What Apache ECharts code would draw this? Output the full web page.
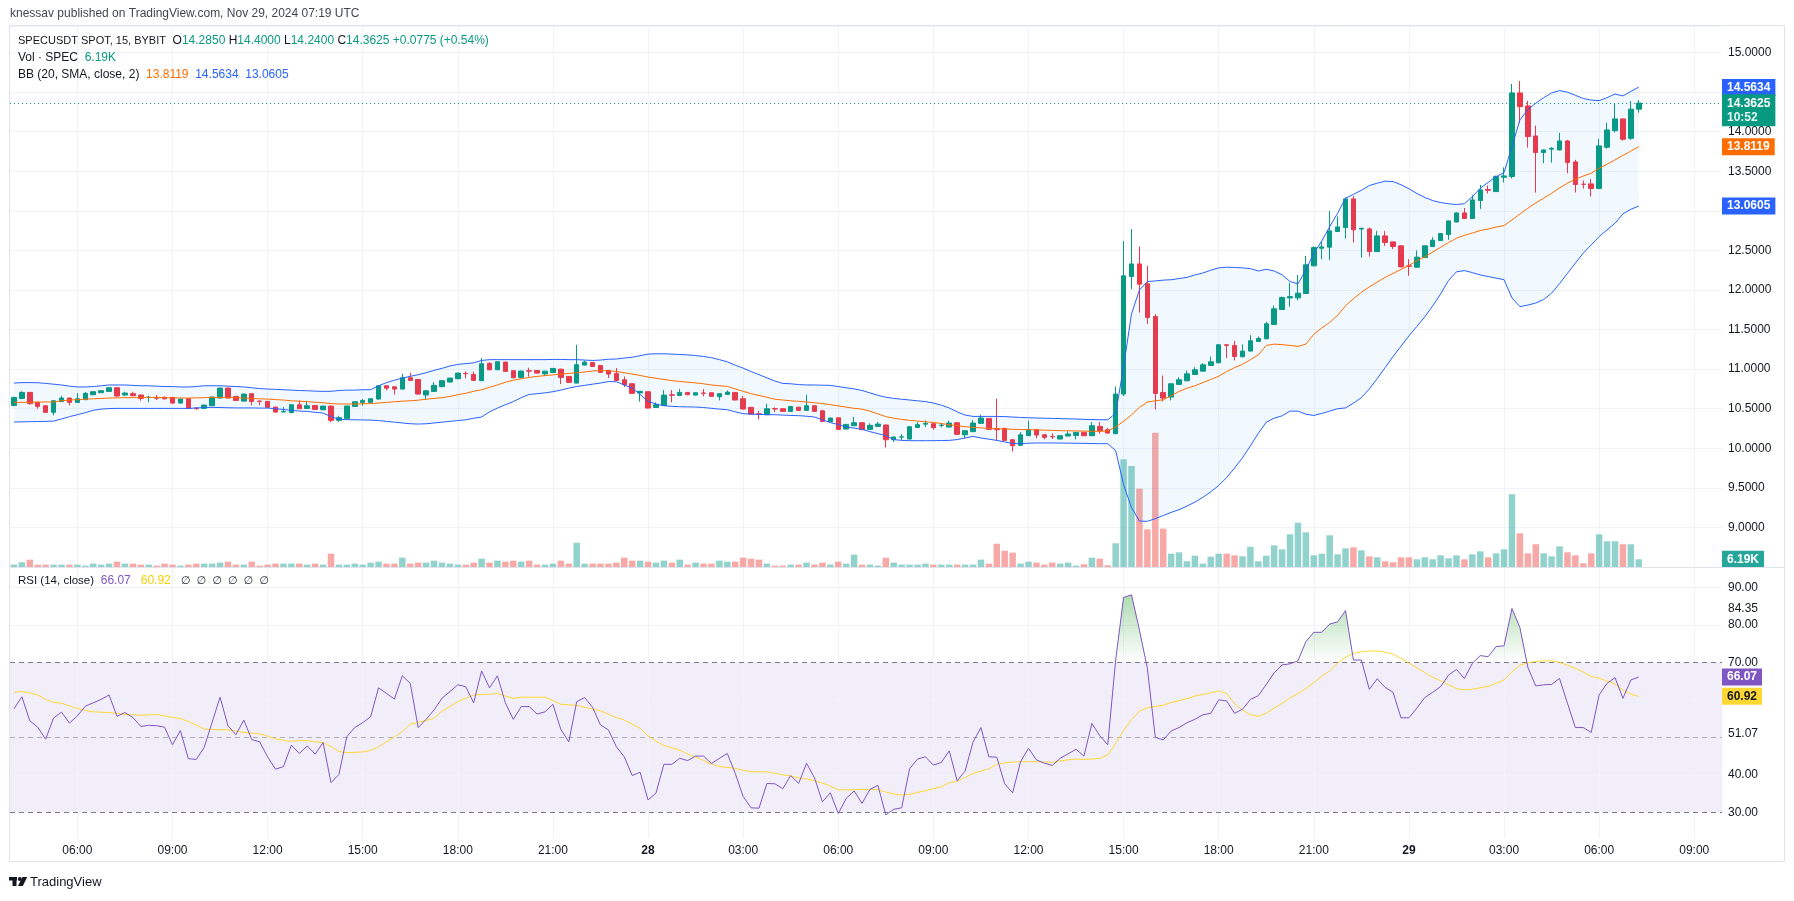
<!DOCTYPE html>
<html><head><meta charset="utf-8">
<script src="https://cdn.jsdelivr.net/npm/echarts@6/dist/echarts.min.js"></script>
<style>html,body{margin:0;padding:0;background:#fff}#c{width:1794px;height:901px}</style>
</head><body><div id="c"></div>
<script>
// ---------------- DATA ----------------
const slotCount = 216;                    // 15-minute slots from Nov 27 04:00 UTC (axis runs past last candle)
const startUTC = [2024, 10, 27, 4, 0];
// [open, close, low, high]
const ohlc = [
[10.542,10.643,10.53,10.65],[10.63,10.706,10.62,10.72],[10.706,10.563,10.555,10.71],[10.58,10.53,10.50,10.585],[10.538,10.454,10.445,10.54],
[10.454,10.601,10.416,10.605],[10.59,10.635,10.585,10.664],[10.635,10.58,10.54,10.64],[10.58,10.626,10.575,10.698],[10.614,10.694,10.61,10.71],
[10.677,10.715,10.67,10.72],[10.702,10.728,10.70,10.732],[10.719,10.765,10.715,10.768],[10.765,10.66,10.655,10.768],[10.673,10.698,10.66,10.715],
[10.69,10.664,10.66,10.715],[10.673,10.63,10.60,10.676],[10.643,10.645,10.584,10.664],[10.643,10.632,10.61,10.672],[10.645,10.625,10.62,10.65],
[10.643,10.571,10.565,10.646],[10.571,10.622,10.568,10.625],[10.626,10.504,10.50,10.628],[10.508,10.50,10.487,10.52],[10.504,10.546,10.50,10.55],
[10.538,10.648,10.535,10.652],[10.635,10.761,10.63,10.765],[10.761,10.635,10.63,10.765],[10.656,10.605,10.60,10.66],[10.596,10.685,10.59,10.69],
[10.69,10.592,10.542,10.693],[10.597,10.593,10.542,10.60],[10.593,10.517,10.51,10.596],[10.521,10.458,10.452,10.525],[10.458,10.466,10.455,10.521],
[10.45,10.55,10.445,10.555],[10.55,10.50,10.495,10.605],[10.504,10.538,10.50,10.60],[10.542,10.491,10.486,10.545],[10.487,10.533,10.482,10.538],
[10.533,10.353,10.332,10.54],[10.353,10.387,10.335,10.41],[10.378,10.534,10.375,10.538],[10.529,10.588,10.525,10.592],[10.58,10.605,10.538,10.622],
[10.58,10.626,10.575,10.63],[10.622,10.79,10.618,10.795],[10.79,10.76,10.731,10.795],[10.777,10.748,10.678,10.78],[10.748,10.891,10.745,10.942],
[10.891,10.858,10.855,10.954],[10.87,10.685,10.68,10.873],[10.673,10.727,10.618,10.73],[10.719,10.795,10.715,10.833],[10.778,10.854,10.775,10.858],
[10.837,10.887,10.833,10.89],[10.879,10.95,10.875,10.953],[10.945,10.942,10.883,10.97],[10.933,10.858,10.853,10.97],[10.854,11.068,10.85,11.14],
[11.072,10.992,10.988,11.09],[10.992,11.093,10.988,11.097],[11.089,10.971,10.967,11.093],[10.98,10.891,10.887,10.984],[10.896,10.976,10.892,10.98],
[10.98,10.975,10.904,11.018],[10.984,10.95,10.945,10.988],[10.94,10.975,10.92,10.98],[10.958,11.009,10.955,11.013],[11.0,10.896,10.81,11.005],
[10.908,10.833,10.828,10.912],[10.824,11.056,10.82,11.308],[11.051,11.089,11.045,11.11],[11.085,11.034,11.03,11.09],[11.047,10.959,10.955,11.05],
[10.984,10.938,10.888,10.988],[10.946,10.858,10.854,11.014],[10.866,10.803,10.774,10.908],[10.816,10.694,10.69,10.82],[10.70,10.72,10.59,10.725],
[10.715,10.508,10.504,10.72],[10.516,10.55,10.51,10.58],[10.542,10.672,10.538,10.736],[10.676,10.67,10.58,10.736],[10.668,10.706,10.664,10.748],
[10.706,10.677,10.672,10.71],[10.672,10.702,10.668,10.706],[10.698,10.695,10.656,10.748],[10.702,10.656,10.652,10.706],[10.652,10.69,10.605,10.694],
[10.681,10.71,10.677,10.731],[10.706,10.61,10.605,10.71],[10.626,10.496,10.49,10.66],[10.517,10.432,10.428,10.52],[10.435,10.43,10.365,10.475],
[10.424,10.50,10.42,10.563],[10.50,10.497,10.458,10.517],[10.50,10.466,10.462,10.504],[10.466,10.529,10.462,10.533],[10.52,10.479,10.475,10.524],
[10.479,10.538,10.475,10.677],[10.538,10.466,10.462,10.542],[10.474,10.34,10.336,10.478],[10.336,10.382,10.332,10.386],[10.386,10.239,10.235,10.39],
[10.243,10.302,10.239,10.306],[10.285,10.323,10.281,10.395],[10.323,10.235,10.231,10.327],[10.239,10.29,10.235,10.315],[10.277,10.306,10.273,10.332],
[10.294,10.108,10.011,10.30],[10.108,10.142,10.08,10.146],[10.142,10.145,10.104,10.18],[10.117,10.273,10.113,10.277],[10.264,10.298,10.26,10.332],
[10.305,10.315,10.268,10.353],[10.311,10.26,10.235,10.315],[10.29,10.292,10.264,10.319],[10.268,10.319,10.264,10.349],[10.323,10.176,10.172,10.327],
[10.17,10.222,10.13,10.226],[10.21,10.319,10.206,10.357],[10.315,10.382,10.311,10.424],[10.378,10.239,10.235,10.382],[10.247,10.235,10.096,10.626],
[10.252,10.10,10.096,10.256],[10.108,10.033,9.96,10.112],[10.037,10.171,10.033,10.205],[10.16,10.235,10.156,10.348],[10.235,10.167,10.125,10.239],
[10.171,10.138,10.113,10.175],[10.15,10.145,10.117,10.188],[10.117,10.159,10.113,10.163],[10.155,10.18,10.15,10.214],[10.163,10.201,10.113,10.205],
[10.201,10.159,10.155,10.205],[10.159,10.285,10.155,10.332],[10.277,10.226,10.184,10.332],[10.234,10.192,10.188,10.255],[10.184,10.685,10.18,10.78],
[10.685,12.179,10.66,12.62],[12.17,12.33,12.01,12.77],[12.33,12.074,11.716,12.55],[12.078,11.653,11.57,12.305],[11.665,10.693,10.49,11.695],
[10.706,10.634,10.592,10.92],[10.647,10.815,10.605,10.82],[10.807,10.866,10.803,10.90],[10.853,10.941,10.849,10.983],[10.933,10.992,10.929,11.026],
[10.975,11.055,10.971,11.076],[11.047,11.093,11.043,11.16],[11.08,11.308,11.076,11.312],[11.308,11.30,11.14,11.312],[11.30,11.16,11.11,11.358],
[11.156,11.228,11.152,11.312],[11.228,11.358,11.224,11.43],[11.35,11.388,11.346,11.413],[11.383,11.573,11.379,11.598],[11.564,11.762,11.56,11.804],
[11.754,11.905,11.75,11.918],[11.90,11.917,11.79,12.09],[11.901,11.96,11.87,12.19],[11.956,12.318,11.952,12.43],[12.305,12.536,12.301,12.55],
[12.528,12.545,12.39,12.612],[12.541,12.747,12.38,12.999],[12.739,12.797,12.735,12.928],[12.789,13.151,12.65,13.17],[13.151,12.76,12.60,13.189],
[12.77,12.78,12.41,12.785],[12.772,12.486,12.423,12.79],[12.486,12.684,12.482,12.747],[12.684,12.60,12.558,12.747],[12.608,12.549,12.516,12.612],
[12.558,12.292,12.288,12.562],[12.305,12.30,12.18,12.39],[12.288,12.415,12.284,12.50],[12.41,12.558,12.406,12.562],[12.549,12.629,12.545,12.667],
[12.625,12.713,12.621,12.717],[12.70,12.873,12.635,12.877],[12.86,12.974,12.856,12.978],[12.974,12.903,12.899,13.037],[12.903,13.138,12.899,13.197],
[13.131,13.265,13.025,13.328],[13.27,13.26,13.22,13.32],[13.244,13.433,13.24,13.446],[13.425,13.442,13.358,13.55],[13.434,14.49,13.41,14.603],
[14.49,14.317,14.107,14.641],[14.326,13.939,13.80,14.39],[13.947,13.737,13.231,14.077],[13.737,13.77,13.602,13.775],[13.78,13.79,13.61,13.806],
[13.77,13.884,13.766,13.985],[13.884,13.61,13.476,13.896],[13.619,13.333,13.232,13.644],[13.337,13.335,13.282,13.383],[13.341,13.282,13.181,13.404],
[13.282,13.821,13.278,13.909],[13.804,14.023,13.787,14.115],[14.014,14.162,13.989,14.359],[14.162,13.905,13.888,14.166],[13.917,14.285,13.897,14.389],
[14.285,14.3625,14.24,14.40]
];
// volume in thousands of SPEC
const volumeK = [
1.9,3.8,5.9,1.9,1.9,1.9,1.9,1.9,1.9,1.1, 2.7,1.9,2.7,4.3,2.7,2.7,1.9,1.9,1.1,2.7,
1.9,1.1,1.9,2.7,2.7,2.7,3.5,4.3,1.9,1.9, 4.3,1.1,1.9,2.7,2.7,2.7,2.7,1.9,2.7,1.9,
10.7,1.9,1.9,2.7,1.9,3.5,4.3,2.7,2.7,7.5, 2.7,3.5,3.5,5.1,3.5,2.7,1.9,1.9,3.5,6.7,
3.5,5.1,4.3,5.1,4.3,5.1,1.9,1.9,2.7,5.1, 2.7,19.5,2.7,2.7,2.7,2.7,3.5,7.5,5.1,5.1,
4.3,3.5,5.1,3.5,5.9,1.9,3.5,2.7,2.7,5.1, 4.3,4.3,7.5,6.7,5.9,2.7,1.1,1.1,1.9,1.9,
3.5,1.9,3.5,1.9,4.3,2.7,9.9,1.9,1.9,1.1, 7.5,3.5,1.9,1.9,1.9,2.7,1.9,1.9,1.9,1.9,
1.9,1.9,5.9,2.7,18.7,13.1,11.5,2.7,4.3,3.5, 1.9,3.5,2.7,3.5,1.1,2.2,7.5,6.7,1.4,19.1,
86.6,81.2,63.0,30.3,108.0,30.8,10.7,11.8,4.6,9.1, 2.7,8.3,10.7,10.7,9.4,8.6,16.3,4.6,9.1,17.4,
14.2,26.3,35.6,27.9,9.4,10.7,25.5,10.2,15.0,15.8, 13.4,8.6,7.8,4.6,3.8,7.8,7.8,6.2,7.8,6.2,
9.4,7.0,9.4,6.2,10.2,12.6,7.8,11.0,14.2,58.5, 27.1,11.0,18.3,11.0,8.6,16.6,11.8,9.4,3.0,11.0,
26.3,20.7,20.7,18.3,18.3,6.19
];
const bbUpper = [
10.824,10.83,10.83,10.828,10.82,10.81,10.80,10.785,10.775,10.775, 10.78,10.79,10.80,10.80,10.80,10.795,10.79,10.79,10.785,10.78,
10.78,10.775,10.774,10.78,10.79,10.79,10.79,10.785,10.78,10.775, 10.765,10.755,10.748,10.745,10.74,10.735,10.73,10.727,10.722,10.719,
10.72,10.73,10.735,10.735,10.74,10.74,10.79,10.83,10.86,10.887, 10.91,10.93,10.955,10.985,11.01,11.04,11.06,11.07,11.08,11.11,
11.12,11.12,11.12,11.12,11.12,11.12,11.12,11.12,11.123,11.123, 11.12,11.12,11.115,11.11,11.115,11.125,11.128,11.14,11.15,11.17,
11.19,11.194,11.194,11.19,11.185,11.18,11.172,11.16,11.145,11.12, 11.093,11.05,11.013,10.97,10.93,10.89,10.85,10.82,10.815,10.805,
10.80,10.80,10.797,10.795,10.78,10.765,10.75,10.73,10.70,10.67, 10.645,10.63,10.62,10.61,10.60,10.59,10.572,10.545,10.51,10.46,
10.42,10.403,10.403,10.403,10.403,10.40,10.395,10.39,10.386,10.383, 10.38,10.378,10.375,10.372,10.37,10.366,10.363,10.361,10.361,10.44,
11.03,11.70,12.0,12.107,12.115,12.125,12.13,12.145,12.16,12.19, 12.215,12.25,12.28,12.288,12.285,12.28,12.27,12.24,12.262,12.24,
12.192,12.107,12.078,12.255,12.465,12.62,12.80,12.97,13.16,13.21, 13.26,13.32,13.35,13.375,13.37,13.33,13.28,13.22,13.17,13.13,
13.105,13.09,13.08,13.09,13.18,13.286,13.36,13.433,13.484,13.812, 14.149,14.28,14.36,14.43,14.49,14.52,14.50,14.46,14.42,14.40,
14.393,14.43,14.477,14.452,14.51,14.5634
];
const bbBasis = [
10.58,10.58,10.582,10.584,10.585,10.585,10.60,10.61,10.614,10.62, 10.625,10.63,10.635,10.637,10.64,10.64,10.642,10.643,10.642,10.64,
10.638,10.636,10.635,10.637,10.64,10.642,10.643,10.643,10.64,10.635, 10.63,10.625,10.622,10.615,10.61,10.60,10.595,10.59,10.582,10.575,
10.565,10.56,10.559,10.56,10.562,10.565,10.572,10.58,10.588,10.595, 10.60,10.608,10.62,10.63,10.64,10.655,10.677,10.695,10.72,10.74,
10.77,10.80,10.835,10.86,10.88,10.895,10.908,10.918,10.928,10.937, 10.946,10.955,10.965,10.975,10.984,10.978,10.971,10.955,10.938,10.92,
10.90,10.885,10.87,10.855,10.845,10.835,10.826,10.815,10.80,10.79, 10.782,10.75,10.72,10.69,10.668,10.645,10.62,10.61,10.60,10.593,
10.585,10.575,10.565,10.552,10.535,10.52,10.505,10.495,10.47,10.435, 10.40,10.38,10.365,10.352,10.345,10.335,10.327,10.313,10.298,10.285,
10.273,10.265,10.258,10.252,10.248,10.244,10.24,10.237,10.235,10.232, 10.229,10.226,10.223,10.221,10.219,10.217,10.215,10.214,10.22,10.27,
10.34,10.424,10.516,10.584,10.60,10.613,10.665,10.718,10.76,10.79, 10.83,10.87,10.91,10.97,11.02,11.06,11.12,11.18,11.30,11.316,
11.31,11.30,11.287,11.316,11.44,11.52,11.59,11.68,11.80,11.89, 11.97,12.04,12.10,12.16,12.21,12.26,12.31,12.37,12.42,12.48,
12.54,12.60,12.655,12.69,12.72,12.752,12.77,12.795,12.815,12.886, 12.96,13.034,13.10,13.16,13.223,13.29,13.35,13.40,13.44,13.476,
13.539,13.59,13.644,13.70,13.755,13.8119
];
const bbLower = [
10.332,10.334,10.336,10.338,10.34,10.344,10.37,10.40,10.424,10.45, 10.48,10.495,10.502,10.504,10.504,10.504,10.504,10.504,10.504,10.504,
10.504,10.504,10.504,10.51,10.515,10.517,10.515,10.512,10.51,10.51, 10.51,10.508,10.508,10.50,10.49,10.48,10.47,10.466,10.455,10.445,
10.40,10.365,10.362,10.36,10.358,10.356,10.35,10.34,10.33,10.32, 10.31,10.306,10.31,10.32,10.33,10.34,10.35,10.36,10.38,10.395,
10.46,10.508,10.55,10.59,10.64,10.68,10.69,10.70,10.715,10.735, 10.76,10.78,10.795,10.81,10.824,10.843,10.841,10.80,10.761,10.68,
10.593,10.56,10.538,10.53,10.525,10.523,10.521,10.515,10.505,10.495, 10.487,10.46,10.437,10.432,10.428,10.425,10.424,10.42,10.415,10.412,
10.405,10.395,10.36,10.325,10.30,10.268,10.255,10.24,10.21,10.185, 10.16,10.11,10.10,10.096,10.096,10.096,10.096,10.098,10.10,10.11,
10.13,10.15,10.13,10.115,10.10,10.08,10.06,10.058,10.064,10.067, 10.067,10.067,10.066,10.065,10.063,10.062,10.06,10.058,10.058,9.97,
9.54,9.25,9.08,9.077,9.11,9.15,9.19,9.224,9.27,9.32, 9.38,9.45,9.53,9.63,9.75,9.88,10.03,10.19,10.33,10.38,
10.41,10.47,10.47,10.43,10.415,10.44,10.47,10.50,10.51,10.57, 10.64,10.75,10.88,11.02,11.16,11.29,11.42,11.54,11.66,11.80,
11.95,12.12,12.23,12.245,12.22,12.19,12.17,12.15,12.13,11.90, 11.79,11.81,11.835,11.88,11.96,12.08,12.21,12.34,12.466,12.57,
12.676,12.76,12.844,12.962,13.02,13.0605
];
const rsi = [
57.6,60.8,54.4,52.7,49.5,55.2,56.7,53.8,55.7,58.3, 59.2,60.1,61.3,55.6,56.6,55.3,52.9,53.2,53.1,52.7,
48.0,51.8,44.3,44.1,47.3,54.0,60.7,53.1,50.7,54.6, 49.4,48.8,44.8,41.5,42.2,47.9,45.7,47.7,45.5,48.6,
37.9,40.1,50.2,52.6,53.9,55.5,63.2,61.7,60.2,66.4, 64.4,52.6,54.8,57.3,60.4,62.2,64.0,63.5,59.2,67.7,
63.2,66.4,59.2,54.8,58.2,58.2,56.2,56.8,58.8,52.1, 48.8,59.5,60.6,58.0,53.3,52.0,47.5,44.8,39.8,40.7,
33.3,35.1,42.8,42.8,44.4,43.8,45.0,45.0,43.0,44.4, 45.7,40.4,34.2,31.2,31.1,37.7,37.6,36.3,39.8,37.7,
43.1,39.2,32.8,35.2,29.7,33.7,35.7,32.4,36.1,37.2, 29.3,30.8,31.2,41.6,44.2,44.8,42.6,43.3,46.4,38.4,
41.0,48.7,52.6,44.8,44.7,37.6,35.2,43.5,47.1,44.0, 43.1,42.5,44.4,45.6,46.8,45.0,53.7,50.4,48.0,70.6,
87.3,88.0,78.6,68.4,50.0,49.3,51.7,52.6,53.9,54.8, 56.0,56.4,60.0,59.7,56.4,57.5,60.1,61.1,64.1,67.2,
69.3,69.6,70.4,75.5,78.0,78.0,80.2,80.8,83.8,70.6, 70.6,62.8,65.6,63.3,62.0,55.2,55.2,57.8,60.6,62.0,
63.5,66.6,68.1,65.7,69.7,71.8,71.5,74.2,74.4,84.35, 79.3,68.7,63.7,64.0,64.1,65.7,59.1,52.6,52.6,51.3,
61.3,64.4,65.9,60.4,65.3,66.07
];
const rsiMa = [
62.0,62.2,61.8,61.3,60.1,59.3,59.1,58.4,57.7,57.2, 56.8,56.7,56.6,56.4,56.1,56.0,55.9,56.0,56.1,55.7,
55.3,55.0,54.2,53.3,52.2,52.1,52.0,52.0,51.7,51.3, 51.1,50.9,50.3,49.6,49.2,48.9,49.2,49.1,48.8,48.6,
47.5,46.2,45.9,46.0,46.1,46.5,47.5,48.8,50.1,51.5, 53.5,54.0,54.5,55.1,57.0,58.2,59.5,60.4,61.3,61.4,
61.5,61.7,61.0,60.4,60.7,60.7,60.7,60.7,59.8,58.8, 58.7,58.5,58.0,57.5,57.1,56.1,55.3,54.6,53.5,52.4,
50.4,49.0,47.8,47.2,46.6,45.5,44.8,43.8,42.9,42.2, 42.0,41.7,41.2,40.8,40.8,40.8,40.4,40.0,39.7,39.2,
38.9,38.4,37.8,37.0,36.0,36.0,36.0,36.1,36.1,36.0, 35.4,34.9,34.6,34.8,35.3,35.8,36.3,36.8,37.9,38.3,
39.3,40.4,41.0,41.6,42.8,43.2,43.4,43.5,43.5,43.5, 43.4,43.3,43.7,44.0,44.2,44.1,44.2,44.4,45.3,48.4,
51.8,54.7,57.0,57.9,58.2,58.6,59.3,59.8,60.3,61.0, 61.4,61.9,62.4,61.7,59.0,57.3,56.0,55.6,56.4,57.8,
59.1,60.5,61.7,63.0,64.6,66.3,67.7,69.8,71.3,72.4, 72.8,73.0,73.0,72.7,72.2,71.0,69.8,68.5,67.3,66.0,
65.1,64.0,63.0,62.7,62.8,63.2,63.6,64.4,65.3,67.5, 69.2,69.9,70.2,70.4,70.4,70.0,69.2,68.4,67.4,66.2,
65.8,65.0,64.2,62.6,61.5,60.92
];
const rsiAxisLabels = [30, 40, 51.07, 70, 80, 84.35, 90];
const rsiGridValues = [40, 60, 80, 90];
const rsiBands = {upper: 70, middle: 50, lower: 30};
const hiddenPriceLabels = [8.5, 13.0, 14.5];
const countdown = '10:52';
const changeText = '+0.0775 (+0.54%)';

// ---------------- STYLE ----------------
const FONT = '"Liberation Sans", Arial, "DejaVu Sans", sans-serif';
const UP = '#089981', DOWN = '#f23645';
const VOL_UP = 'rgba(38,166,154,0.5)', VOL_DOWN = 'rgba(239,83,80,0.5)';
const GRID_C = '#f0f3fa', TXT = '#131722';
const BLUE = '#2962ff', ORANGE = '#ff6d00', PURPLE = '#7e57c2', YELLOW = '#fdd835';
const CLEAR = 'rgba(0,0,0,0)';

const pad = n => String(n).padStart(2, '0');
const cats = [];
const t0 = Date.UTC(...startUTC);
for (let k = 0; k < slotCount; k++) {
  const d = new Date(t0 + k * 900000);
  cats.push(d.getUTCDate() + ' ' + pad(d.getUTCHours()) + ':' + pad(d.getUTCMinutes()));
}
const isMajor = c => { const hm = c.split(' ')[1]; const [h, m] = hm.split(':').map(Number); return m === 0 && h % 3 === 0; };
const fmtTime = c => { const [dd, hm] = c.split(' '); return hm === '00:00' ? '{b|' + dd + '}' : hm; };
const vGrid = cats.filter(isMajor).map(c => ({xAxis: c}));

const last = ohlc.length - 1;
const lastBar = ohlc[last];
const f4 = v => v.toFixed(4);

const tag = (val, text, bg, fg) => ({
  yAxis: val,
  lineStyle: {color: CLEAR, width: 1, opacity: 1},
  label: {show: true, position: 'end', formatter: text, backgroundColor: bg, color: fg,
    padding: [3, 5, 2, 5], fontSize: 12, fontWeight: 'bold', fontFamily: FONT, distance: 0}
});

const RICH = {
  n: {color: TXT, fontSize: 11, fontFamily: FONT},
  r: {color: TXT, fontSize: 11.5, fontFamily: FONT},
  d: {color: TXT, fontSize: 12, fontFamily: FONT},
  g: {color: UP, fontSize: 12, fontFamily: FONT},
  o: {color: ORANGE, fontSize: 12, fontFamily: FONT},
  bl: {color: BLUE, fontSize: 12, fontFamily: FONT},
  p: {color: PURPLE, fontSize: 12, fontFamily: FONT},
  y: {color: '#f5d000', fontSize: 12, fontFamily: FONT},
  z: {color: TXT, fontSize: 11, fontFamily: FONT}
};
const tStyle = {fontSize: 12, color: TXT, fontFamily: FONT, fontWeight: 'normal', rich: RICH};

const chart = echarts.init(document.getElementById('c'), null, {width: 1794, height: 901, renderer: 'canvas'});

const option = {
  animation: false,
  backgroundColor: '#ffffff',
  textStyle: {fontFamily: FONT},
  title: [
    {text: 'knessav published on TradingView.com, Nov 29, 2024 07:19 UTC', left: 10, top: 8, padding: 0,
     textStyle: {fontSize: 12, fontWeight: 'normal', color: '#434651', fontFamily: FONT}},
    {text: '{n|SPECUSDT SPOT, 15, BYBIT}  {d|O}{g|' + f4(lastBar[0]) + '} {d|H}{g|' + f4(lastBar[3]) + '} {d|L}{g|' + f4(lastBar[2]) + '} {d|C}{g|' + f4(lastBar[1]) + '} {g|' + changeText + '}',
     left: 18, top: 35, padding: 0, textStyle: tStyle},
    {text: '{d|Vol · SPEC}  {g|' + volumeK[last].toFixed(2) + 'K}', left: 18, top: 52, padding: 0, textStyle: tStyle},
    {text: '{d|BB (20, SMA, close, 2)}  {o|' + f4(bbBasis[last]) + '}  {bl|' + f4(bbUpper[last]) + '}  {bl|' + f4(bbLower[last]) + '}',
     left: 18, top: 69, padding: 0, textStyle: tStyle},
    {text: '{r|RSI (14, close)}  {p|' + rsi[last].toFixed(2) + '}   {y|' + rsiMa[last].toFixed(2) + '}   {z|∅  ∅  ∅  ∅  ∅  ∅}',
     left: 18, top: 575, padding: 0, textStyle: tStyle}
  ],
  graphic: [
    {type: 'rect', silent: true, z: 100, shape: {x: 9.5, y: 25.5, width: 1775, height: 836}, style: {fill: 'none', stroke: '#e0e3eb', lineWidth: 1}},
    {type: 'line', silent: true, z: 100, shape: {x1: 9.5, y1: 567.5, x2: 1784.5, y2: 567.5}, style: {stroke: '#e0e3eb', lineWidth: 1}},
    {type: 'rect', silent: true, shape: {x: 9, y: 877, width: 8, height: 3.5}, style: {fill: '#131722'}},
    {type: 'rect', silent: true, shape: {x: 12.5, y: 877, width: 4, height: 9}, style: {fill: '#131722'}},
    {type: 'circle', silent: true, shape: {cx: 19.8, cy: 879, r: 1.9}, style: {fill: '#131722'}},
    {type: 'polygon', silent: true, shape: {points: [[22.4, 877], [27.2, 877], [22.8, 886], [18, 886]]}, style: {fill: '#131722'}},
    {type: 'text', silent: true, style: {text: 'TradingView', x: 30, y: 882, fontSize: 13, fill: '#131722', fontFamily: FONT, verticalAlign: 'middle'}}
  ],
  grid: [
    {left: 10, right: 72, top: 26, height: 541},
    {left: 10, right: 72, top: 367, height: 200},
    {left: 10, right: 72, top: 568, height: 270}
  ],
  xAxis: [
    {type: 'category', gridIndex: 0, data: cats, boundaryGap: true, show: false},
    {type: 'category', gridIndex: 1, data: cats, boundaryGap: true, show: false},
    {type: 'category', gridIndex: 2, data: cats, boundaryGap: true,
     axisLine: {show: false}, axisTick: {show: false}, splitLine: {show: false},
     axisLabel: {interval: (i, v) => isMajor(v), formatter: fmtTime, color: TXT, fontSize: 12, margin: 7, fontFamily: FONT,
       rich: {b: {fontWeight: 'bold', fontSize: 12, color: TXT, fontFamily: FONT}}}}
  ],
  yAxis: [
    {type: 'value', gridIndex: 0, position: 'right', min: 8.5, max: 15.336, interval: 0.5,
     axisLine: {show: false}, axisTick: {show: false},
     splitLine: {show: true, lineStyle: {color: GRID_C, width: 1}},
     axisLabel: {color: TXT, fontSize: 12, margin: 6, fontFamily: FONT,
       formatter: v => { const r = Math.round(v * 2) / 2; if (Math.abs(v - r) > 1e-6) return ''; if (hiddenPriceLabels.indexOf(r) >= 0) return ''; return r.toFixed(4); }}},
    {type: 'value', gridIndex: 1, min: 0, max: 160.8, show: false},
    {type: 'value', gridIndex: 2, position: 'right', min: 23.15, max: 95.15,
     axisLine: {show: false}, axisTick: {show: false}, splitLine: {show: false},
     axisLabel: {customValues: rsiAxisLabels, formatter: v => v.toFixed(2), color: TXT, fontSize: 12, margin: 6, fontFamily: FONT}}
  ],
  visualMap: [{
    type: 'continuous', show: false, seriesIndex: 8, min: 70, max: 90,
    inRange: {color: ['rgba(76,175,80,0)', 'rgba(76,175,80,0.5)']},
    outOfRange: {color: 'rgba(76,175,80,0)'}
  }],
  series: [
    // 0 volume
    {type: 'bar', name: 'Vol', xAxisIndex: 1, yAxisIndex: 1, barCategoryGap: '18%',
     data: volumeK.map((v, i) => ({value: v, itemStyle: {color: ohlc[i][1] >= ohlc[i][0] ? VOL_UP : VOL_DOWN}})),
     markLine: {silent: true, symbol: ['none', 'none'], data: [tag(volumeK[last], volumeK[last].toFixed(2) + 'K', '#26a69a', '#fff')]}},
    // 1 BB band base (lower) + vertical grid lines for price pane
    {type: 'line', name: 'bbBase', xAxisIndex: 0, yAxisIndex: 0, data: bbLower, stack: 'bb', symbol: 'none',
     lineStyle: {opacity: 0}, silent: true,
     markLine: {silent: true, z: 1, symbol: ['none', 'none'], label: {show: false},
       lineStyle: {color: GRID_C, type: 'solid', width: 1}, data: vGrid}},
    // 2 BB band fill
    {type: 'line', name: 'bbFill', xAxisIndex: 0, yAxisIndex: 0, stack: 'bb', symbol: 'none', silent: true,
     data: bbUpper.map((u, i) => +(u - bbLower[i]).toFixed(4)),
     lineStyle: {opacity: 0}, areaStyle: {color: 'rgba(33,150,243,0.06)', opacity: 1}},
    // 3 upper
    {type: 'line', name: 'Upper', xAxisIndex: 0, yAxisIndex: 0, data: bbUpper, symbol: 'none', silent: true,
     lineStyle: {color: BLUE, width: 1},
     markLine: {silent: true, symbol: ['none', 'none'], data: [tag(bbUpper[last], f4(bbUpper[last]), BLUE, '#fff')]}},
    // 4 lower
    {type: 'line', name: 'Lower', xAxisIndex: 0, yAxisIndex: 0, data: bbLower, symbol: 'none', silent: true,
     lineStyle: {color: BLUE, width: 1},
     markLine: {silent: true, symbol: ['none', 'none'], data: [tag(bbLower[last], f4(bbLower[last]), BLUE, '#fff')]}},
    // 5 basis
    {type: 'line', name: 'Basis', xAxisIndex: 0, yAxisIndex: 0, data: bbBasis, symbol: 'none', silent: true,
     lineStyle: {color: ORANGE, width: 1},
     markLine: {silent: true, symbol: ['none', 'none'], data: [tag(bbBasis[last], f4(bbBasis[last]), ORANGE, '#fff')]}},
    // 6 candles
    {type: 'candlestick', name: 'SPECUSDT', xAxisIndex: 0, yAxisIndex: 0, data: ohlc, barWidth: 5,
     itemStyle: {color: UP, color0: DOWN, borderColor: UP, borderColor0: DOWN, borderWidth: 1},
     markLine: {silent: true, symbol: ['none', 'none'], data: [{
       yAxis: lastBar[1], lineStyle: {type: [1, 3], color: UP, width: 1, opacity: 1},
       label: {show: true, position: 'end', distance: 0, offset: [0, 7], backgroundColor: UP, padding: [2, 5, 2, 5],
         formatter: '{a|' + f4(lastBar[1]) + '}\n{t|' + countdown + '}',
         rich: {a: {color: '#fff', fontWeight: 'bold', fontSize: 12, lineHeight: 14, fontFamily: FONT},
                t: {color: '#e8f5f2', fontWeight: 'bold', fontSize: 12, lineHeight: 14, fontFamily: FONT}}}
     }]}},
    // 7 RSI guide: band, grid, dashed levels
    {type: 'line', name: 'rsiGuide', xAxisIndex: 2, yAxisIndex: 2, data: [], silent: true,
     markArea: {silent: true, z: 0, itemStyle: {color: 'rgba(126,87,194,0.1)'},
       data: [[{yAxis: rsiBands.lower}, {yAxis: rsiBands.upper}]]},
     markLine: {silent: true, z: 1, symbol: ['none', 'none'], label: {show: false},
       lineStyle: {color: GRID_C, type: 'solid', width: 1},
       data: vGrid.concat(rsiGridValues.map(v => ({yAxis: v}))).concat([
         {yAxis: rsiBands.upper, lineStyle: {color: '#787b86', type: [5, 4], width: 1}},
         {yAxis: rsiBands.middle, lineStyle: {color: 'rgba(120,123,134,0.55)', type: [5, 4], width: 1}},
         {yAxis: rsiBands.lower, lineStyle: {color: '#787b86', type: [5, 4], width: 1}}
       ])}},
    // 8 RSI overbought fill
    {type: 'line', name: 'rsiFill', xAxisIndex: 2, yAxisIndex: 2, data: rsi, symbol: 'none', silent: true,
     lineStyle: {width: 0, opacity: 0}, areaStyle: {opacity: 1}},
    // 9 RSI MA
    {type: 'line', name: 'RSI MA', xAxisIndex: 2, yAxisIndex: 2, data: rsiMa, symbol: 'none', silent: true,
     lineStyle: {color: YELLOW, width: 1},
     markLine: {silent: true, symbol: ['none', 'none'], data: [tag(rsiMa[last], rsiMa[last].toFixed(2), YELLOW, TXT)]}},
    // 10 RSI
    {type: 'line', name: 'RSI', xAxisIndex: 2, yAxisIndex: 2, data: rsi, symbol: 'none', silent: true,
     lineStyle: {color: PURPLE, width: 1},
     markLine: {silent: true, symbol: ['none', 'none'], data: [tag(rsi[last], rsi[last].toFixed(2), PURPLE, '#fff')]}}
  ]
};
chart.setOption(option);
</script>
</body></html>
